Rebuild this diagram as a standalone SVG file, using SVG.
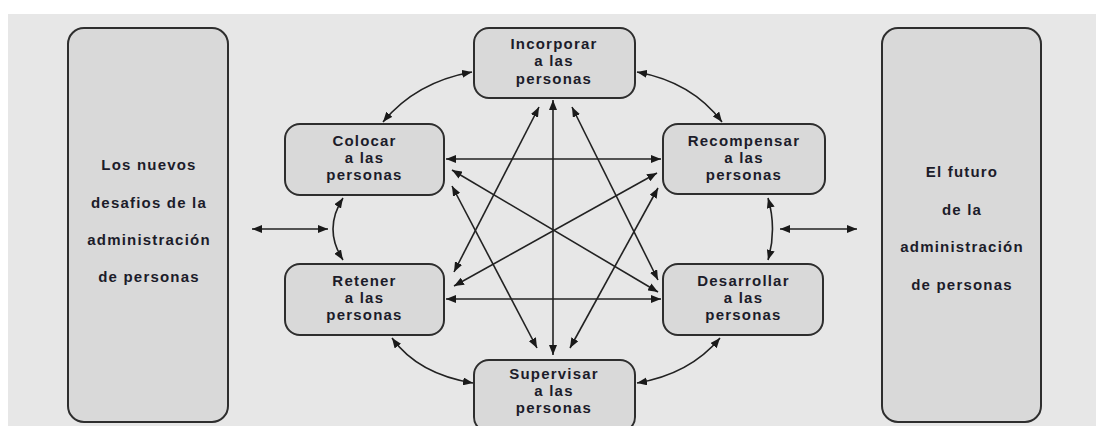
<svg xmlns="http://www.w3.org/2000/svg" width="1096" height="426" viewBox="0 0 1096 426">
  <style>
    .panel { fill: #d9d9d9; stroke: #2e2e2e; stroke-width: 2; }
    .node { fill: #d9d9d9; stroke: #2e2e2e; stroke-width: 2; }
    .t { font-family: "Liberation Sans", Arial, sans-serif; font-size: 15px; font-weight: bold; fill: #1c1c2a; text-anchor: middle; letter-spacing: 1.2px; }
    .c { fill: none; stroke: #222; stroke-width: 1.6; marker-start: url(#ah); marker-end: url(#ah); }
  </style>
  <defs>
    <marker id="ah" viewBox="0 0 10 8" refX="10" refY="4" markerWidth="10" markerHeight="8" markerUnits="userSpaceOnUse" orient="auto-start-reverse">
      <path d="M0,0 L10,4 L0,8 z" fill="#1a1a1a"/>
    </marker>
  </defs>
  <rect x="0" y="0" width="1096" height="426" fill="#ffffff"/>
  <rect x="8" y="14" width="1088" height="412" fill="#e7e7e7"/>

  <g id="panel-left">
    <rect class="panel" x="68" y="28" width="160" height="394" rx="16"/>
    <text class="t" x="149" y="170">Los nuevos</text>
    <text class="t" x="149" y="208">desafios de la</text>
    <text class="t" x="149" y="245">administración</text>
    <text class="t" x="149" y="282">de personas</text>
  </g>
  <g id="panel-right">
    <rect class="panel" x="882" y="28" width="159" height="394" rx="16"/>
    <text class="t" x="962" y="177">El futuro</text>
    <text class="t" x="962" y="215">de la</text>
    <text class="t" x="962" y="252">administración</text>
    <text class="t" x="962" y="290">de personas</text>
  </g>

  <g id="node-incorporar">
    <rect class="node" x="474" y="28" width="161" height="70" rx="15"/>
    <text class="t" x="554" y="48.5">Incorporar</text>
    <text class="t" x="554" y="66">a las</text>
    <text class="t" x="554" y="83.5">personas</text>
  </g>
  <g id="node-colocar">
    <rect class="node" x="285" y="124" width="159" height="71" rx="15"/>
    <text class="t" x="364.5" y="145.5">Colocar</text>
    <text class="t" x="364.5" y="162.5">a las</text>
    <text class="t" x="364.5" y="179.5">personas</text>
  </g>
  <g id="node-recompensar">
    <rect class="node" x="663" y="124" width="162" height="70" rx="15"/>
    <text class="t" x="744" y="145.5">Recompensar</text>
    <text class="t" x="744" y="162.5">a las</text>
    <text class="t" x="744" y="179.5">personas</text>
  </g>
  <g id="node-retener">
    <rect class="node" x="285" y="264" width="159" height="71" rx="15"/>
    <text class="t" x="364.5" y="285.5">Retener</text>
    <text class="t" x="364.5" y="302.5">a las</text>
    <text class="t" x="364.5" y="319.5">personas</text>
  </g>
  <g id="node-desarrollar">
    <rect class="node" x="663" y="264" width="160" height="71" rx="15"/>
    <text class="t" x="743.5" y="285.5">Desarrollar</text>
    <text class="t" x="743.5" y="302.5">a las</text>
    <text class="t" x="743.5" y="319.5">personas</text>
  </g>
  <g id="node-supervisar">
    <rect class="node" x="474" y="360" width="161" height="72" rx="15"/>
    <text class="t" x="554" y="379">Supervisar</text>
    <text class="t" x="554" y="396">a las</text>
    <text class="t" x="554" y="412.5">personas</text>
  </g>

  <g id="connectors">
    <path class="c" d="M553,100 L553,355"/>
    <path class="c" d="M446,159 L661,159"/>
    <path class="c" d="M446,299 L661,299"/>
    <path class="c" d="M539,107 L454,272"/>
    <path class="c" d="M572,107 L658,280"/>
    <path class="c" d="M452,170 L658,292"/>
    <path class="c" d="M452,186 L537,348"/>
    <path class="c" d="M657,173 L454,286"/>
    <path class="c" d="M658,188 L570,348"/>
    <path class="c" d="M472,72 Q416,82 383,122"/>
    <path class="c" d="M637,72 Q692,82 722,122"/>
    <path class="c" d="M343,198 Q323,229 343,260"/>
    <path class="c" d="M768,198 Q777,229 768,260"/>
    <path class="c" d="M392,338 Q418,374 473,383"/>
    <path class="c" d="M720,338 Q690,374 637,383"/>
    <path class="c" d="M252,229 L328,229"/>
    <path class="c" d="M780,229 L857,229"/>
  </g>
</svg>
